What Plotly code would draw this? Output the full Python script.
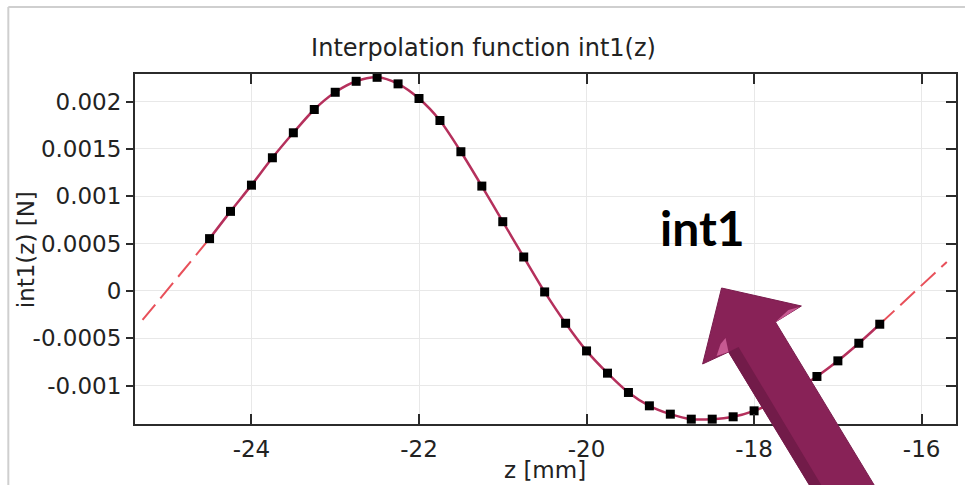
import plotly.graph_objects as go

# ---- data ----
z_pts = [-24.5, -24.25, -24.0, -23.75, -23.5, -23.25, -23.0, -22.75, -22.5, -22.25,
         -22.0, -21.75, -21.5, -21.25, -21.0, -20.75, -20.5, -20.25, -20.0, -19.75,
         -19.5, -19.25, -19.0, -18.75, -18.5, -18.25, -18.0, -17.75, -17.5, -17.25,
         -17.0, -16.75, -16.5]
f_pts = [0.000553, 0.000841, 0.001118, 0.001407, 0.001671, 0.001917, 0.002099, 0.002215,
         0.002257, 0.002188, 0.002033, 0.001801, 0.001471, 0.001108, 0.000732, 0.000359,
         -0.000010, -0.000341, -0.000633, -0.000868, -0.001072, -0.001213, -0.001301,
         -0.001354, -0.001354, -0.001329, -0.001266, -0.001170, -0.001041, -0.000903,
         -0.000738, -0.000552, -0.000351]
ext_left_z = [-25.3, -24.5]
ext_left_f = [-0.000306, 0.000553]
ext_right_z = [-16.5, -15.7]
ext_right_f = [-0.000351, 0.000306]

x_ticks = [-24, -22, -20, -18, -16]
x_ticklabels = ["-24", "-22", "-20", "-18", "-16"]
y_ticks = [-0.001, -0.0005, 0, 0.0005, 0.001, 0.0015, 0.002]
y_ticklabels = ["-0.001", "-0.0005", "0", "0.0005", "0.001", "0.0015", "0.002"]

x_range = [-25.39, -15.59]
y_range = [-0.001405, 0.002292]

W, H = 967, 485
ML, MR, MT, MB = 135, 9, 74, 61
PW, PH = W - ML - MR, H - MT - MB


def px(x):
    return (x - ML) / PW


def py(y):
    return (H - MB - y) / PH


FONT = "DejaVu Sans"
fig = go.Figure()

fig.add_trace(go.Scatter(x=ext_left_z, y=ext_left_f, mode="lines",
                         line=dict(color="#e8505a", width=2, dash="20px,8px"), showlegend=False))
fig.add_trace(go.Scatter(x=ext_right_z, y=ext_right_f, mode="lines",
                         line=dict(color="#e8505a", width=2, dash="20px,8px"), showlegend=False))
fig.add_trace(go.Scatter(x=z_pts, y=f_pts, mode="lines",
                         line=dict(color="#b5305c", width=2.5, shape="spline", smoothing=0.8),
                         showlegend=False))
fig.add_trace(go.Scatter(x=z_pts, y=f_pts, mode="markers",
                         marker=dict(symbol="square", size=9, color="black"), showlegend=False))
# invisible trace to instantiate the right-hand mirror axis
fig.add_trace(go.Scatter(x=ext_left_z, y=ext_left_f, yaxis="y2", mode="lines",
                         line=dict(width=0), opacity=0, hoverinfo="skip", showlegend=False))

axis_col = "#2b2b2b"
fig.update_layout(
    width=W, height=H,
    margin=dict(l=ML, r=MR, t=MT, b=MB),
    paper_bgcolor="white", plot_bgcolor="white",
    font=dict(family=FONT, size=23, color="#222222"),
    title=dict(text="Interpolation function int1(z)", x=0.5, xref="container",
               y=1 - 48 / H, yref="container", xanchor="center", yanchor="middle",
               font=dict(family=FONT, size=24, color="#222222")),
    xaxis=dict(range=x_range, tickvals=x_ticks, ticktext=x_ticklabels,
               ticks="inside", ticklen=10, tickwidth=2, tickcolor=axis_col,
               showline=True, linecolor=axis_col, linewidth=2, mirror="ticks",
               showgrid=True, gridcolor="#e8e8e8", gridwidth=1, zeroline=False,
               ticklabelstandoff=3, tickfont=dict(size=23)),
    yaxis=dict(range=y_range, tickvals=y_ticks, ticktext=y_ticklabels,
               ticks="outside", ticklen=7, tickwidth=2, tickcolor=axis_col,
               showline=True, linecolor=axis_col, linewidth=2, mirror=True,
               showgrid=True, gridcolor="#e8e8e8", gridwidth=1, zeroline=False,
               tickfont=dict(size=23)),
    yaxis2=dict(range=y_range, overlaying="y", side="right", tickvals=y_ticks,
                ticks="inside", ticklen=10, tickwidth=2, tickcolor=axis_col,
                showticklabels=False, showgrid=False, zeroline=False,
                showline=True, linecolor=axis_col, linewidth=2),
)

# axis titles
fig.add_annotation(text="z [mm]", x=px(546), y=py(470), xref="paper", yref="paper",
                   showarrow=False, xanchor="center", yanchor="middle",
                   font=dict(family=FONT, size=23, color="#222222"))
fig.add_annotation(text="int1(z) [N]", x=px(26), y=py(250), xref="paper", yref="paper",
                   showarrow=False, textangle=-90, xanchor="center", yanchor="middle",
                   font=dict(family=FONT, size=23, color="#222222"))
# big label
fig.add_annotation(text="<b>int1</b>", x=px(704), y=py(228), xref="paper", yref="paper",
                   showarrow=False, xanchor="center", yanchor="middle",
                   font=dict(family="Lato", size=48, color="black"))


def path(points):
    s = "M " + " L ".join(f"{px(a):.5f},{py(b):.5f}" for a, b in points) + " Z"
    return s


# outer light-grey border
fig.add_shape(type="line", xref="paper", yref="paper", x0=px(8), y0=py(7), x1=px(967), y1=py(7),
              line=dict(color="#cfcfcf", width=2))
fig.add_shape(type="line", xref="paper", yref="paper", x0=px(8), y0=py(7), x1=px(8), y1=py(485),
              line=dict(color="#cfcfcf", width=2))

# 3D-looking arrow
arrow = [(723, 288), (803, 306), (777, 322), (879, 490), (814, 490), (730, 352), (704, 364)]
fig.add_shape(type="path", xref="paper", yref="paper", path=path(arrow),
              fillcolor="#882257", line=dict(color="#7a1d4e", width=1), layer="above")
shade = [(730, 352), (740, 347), (826, 490), (814, 490)]
fig.add_shape(type="path", xref="paper", yref="paper", path=path(shade),
              fillcolor="#721b49", line=dict(width=0), layer="above")
hl1 = [(777, 322), (790, 310), (801, 307), (784, 318)]
fig.add_shape(type="path", xref="paper", yref="paper", path=path(hl1),
              fillcolor="#c75a92", line=dict(width=0), layer="above")
hl2 = [(730, 352), (727, 338), (722, 344), (718, 356)]
fig.add_shape(type="path", xref="paper", yref="paper", path=path(hl2),
              fillcolor="#c75a92", line=dict(width=0), layer="above")

fig.write_html("out.html")
